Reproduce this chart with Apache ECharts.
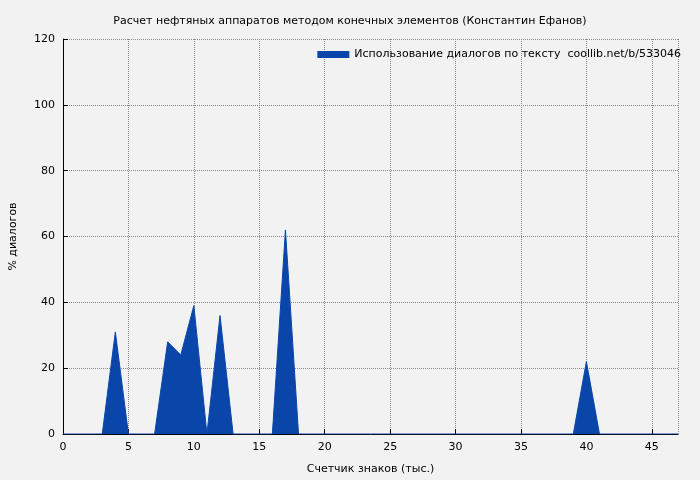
<!DOCTYPE html><html><head><meta charset="utf-8"><script src="https://cdn.jsdelivr.net/npm/echarts@6/dist/echarts.min.js"></script></head><body style="margin:0;background:#f2f2f2"><div id="c" style="width:700px;height:480px"></div><script>
const xs=[];for(let i=0;i<=47;i++)xs.push(i);
const vals=[0,0,0,0,31,0,0,0,28,24,39,0,36,0,0,0,0,62,0,0,0,0,0,0,0,0,0,0,0,0,0,0,0,0,0,0,0,0,0,0,22,0,0,0,0,0,0,0];
const title='Расчет нефтяных аппаратов методом конечных элементов (Константин Ефанов)';
const seriesName='Использование диалогов по тексту  coollib.net/b/533046';
const f='DejaVu Sans';
const ch=echarts.init(document.getElementById('c'));
ch.setOption({backgroundColor:'#f2f2f2',animation:false,
title:{text:title,left:'center',top:11,textStyle:{fontFamily:f,fontSize:11,fontWeight:'normal',color:'#000'}},
legend:{right:14,top:44,itemWidth:32,itemHeight:7,icon:'rect',textStyle:{fontFamily:f,fontSize:11,color:'#000'},data:[seriesName],align:'left'},
grid:{left:62,right:22,top:39,bottom:46},
xAxis:{type:'value',min:0,max:47,interval:5,name:'Счетчик знаков (тыс.)',nameLocation:'middle',nameGap:30,nameTextStyle:{fontFamily:f,fontSize:11,color:'#000'},
axisLine:{lineStyle:{color:'#000'}},axisTick:{inside:true,lineStyle:{color:'#000'}},axisLabel:{fontFamily:f,fontSize:11,color:'#000',showMaxLabel:false},
splitLine:{lineStyle:{type:'dotted',color:'#888'}}},
yAxis:{type:'value',min:0,max:120,interval:20,name:'% диалогов',nameLocation:'middle',nameGap:44,nameTextStyle:{fontFamily:f,fontSize:11,color:'#000'},
axisLine:{show:true,lineStyle:{color:'#000'}},axisTick:{inside:true,lineStyle:{color:'#000'}},axisLabel:{fontFamily:f,fontSize:11,color:'#000'},
splitLine:{lineStyle:{type:'dotted',color:'#888'}}},
series:[{name:seriesName,type:'line',data:xs.map((x,i)=>[x,vals[i]]),symbol:'none',lineStyle:{width:1,color:'#0a46aa'},itemStyle:{color:'#0a46aa'},areaStyle:{color:'#0a46aa',opacity:1}}]
});
</script></body></html>
